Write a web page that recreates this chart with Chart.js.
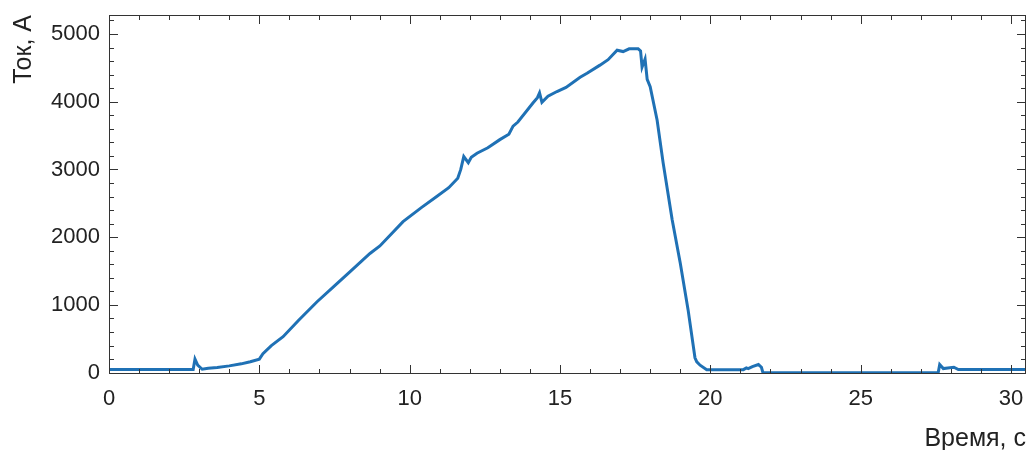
<!DOCTYPE html>
<html>
<head>
<meta charset="utf-8">
<script src="https://cdn.jsdelivr.net/npm/chart.js@4.4.1/dist/chart.umd.min.js"></script>
<style>
  html, body { margin: 0; padding: 0; background: #fff; }
  #wrap { width: 1035px; height: 450px; }
</style>
</head>
<body>
<div id="wrap"><canvas id="chart-tok"></canvas></div>
<script>
// время, с
const timeS = [0, 2.80, 2.86, 2.95, 3.10, 3.30, 3.60, 4.00, 4.40, 4.70,
  5.00, 5.12, 5.40, 5.79, 6.30, 6.92, 7.50, 8.02, 8.68, 9.01,
  9.78, 10.40, 10.90, 11.30, 11.60, 11.70, 11.80, 11.95, 12.05, 12.24,
  12.60, 13.00, 13.30, 13.44, 13.60, 14.10, 14.25, 14.32, 14.40, 14.60,
  14.90, 15.20, 15.67, 15.90, 16.33, 16.60, 16.90, 17.10, 17.30, 17.60,
  17.68, 17.73, 17.83, 17.90, 18.00, 18.23, 18.43, 18.73, 19.00, 19.26,
  19.49, 19.55, 19.66, 19.88, 21.10, 21.20, 21.26, 21.40, 21.60, 21.70,
  21.75, 27.58, 27.63, 27.75, 27.90, 28.10, 28.25, 30.5];
// ток, А
const currentA = [45, 45, 200, 110, 50, 65, 75, 100, 130, 160,
  200, 280, 400, 530, 770, 1047, 1280, 1490, 1760, 1870,
  2230, 2440, 2600, 2730, 2870, 3000, 3190, 3100, 3180, 3240,
  3320, 3440, 3520, 3640, 3700, 3980, 4060, 4130, 3990, 4080,
  4150, 4210, 4360, 4420, 4540, 4620, 4760, 4740, 4780, 4780,
  4750, 4510, 4630, 4330, 4220, 3730, 3100, 2260, 1620, 930,
  220, 160, 110, 44, 44, 70, 60, 90, 120, 80,
  0, 0, 120, 60, 70, 80, 45, 45];

const xMajor = [0, 5, 10, 15, 20, 25, 30];
const yMajor = [0, 1000, 2000, 3000, 4000, 5000];

const axisColor = '#333333';
const textColor = '#222222';

// рамка и засечки внутрь
const boxTicks = {
  id: 'boxTicks',
  afterDraw(chart) {
    const ctx = chart.ctx;
    const a = chart.chartArea;
    const xs = chart.scales.x, ys = chart.scales.y;
    ctx.save();
    ctx.strokeStyle = axisColor;
    ctx.lineWidth = 1;
    ctx.strokeRect(a.left + 0.5, a.top + 0.5, a.right - a.left - 1, a.bottom - a.top - 1);
    ctx.beginPath();
    for (let v = 0; v <= 30; v += 1) {
      const len = (v % 5 === 0) ? 9 : 5;
      const px = Math.round(xs.getPixelForValue(v)) + 0.5;
      ctx.moveTo(px, a.bottom); ctx.lineTo(px, a.bottom - len);
      ctx.moveTo(px, a.top); ctx.lineTo(px, a.top + len);
    }
    for (let v = 0; v <= 5200; v += 200) {
      const len = (v % 1000 === 0) ? 9 : 5;
      const py = Math.round(ys.getPixelForValue(v)) + 0.5;
      ctx.moveTo(a.left, py); ctx.lineTo(a.left + len, py);
      ctx.moveTo(a.right, py); ctx.lineTo(a.right - len, py);
    }
    ctx.stroke();
    ctx.restore();
  }
};

const ctx = document.getElementById('chart-tok').getContext('2d');
const tokChart = new Chart(ctx, {
  type: 'line',
  data: {
    datasets: [{
      label: 'Ток',
      data: timeS.map((t, i) => ({ x: t, y: currentA[i] })),
      borderColor: '#1f71b5',
      borderWidth: 3,
      pointRadius: 0,
      tension: 0,
      fill: false
    }]
  },
  options: {
    responsive: true,
    maintainAspectRatio: false,
    animation: false,
    layout: { padding: { top: 15, right: 9, left: 0, bottom: 0 } },
    plugins: { legend: { display: false }, tooltip: { enabled: false } },
    scales: {
      x: {
        type: 'linear',
        min: 0,
        max: 30.5,
        afterBuildTicks: s => { s.ticks = xMajor.map(v => ({ value: v })); },
        afterFit: s => { s.height = 76; s.paddingRight = 0; s.paddingLeft = 0; },
        grid: { display: false, drawTicks: false },
        border: { display: false },
        ticks: {
          color: textColor, font: { family: 'Liberation Sans', size: 22 }, padding: 12, maxRotation: 0,
          callback: v => String(v)
        },
        title: {
          display: true, text: 'Время, с', align: 'end', color: textColor,
          font: { family: 'Liberation Sans', size: 25 }, padding: { top: 17, bottom: -4 }
        }
      },
      y: {
        min: -20,
        max: 5280,
        afterBuildTicks: s => { s.ticks = yMajor.map(v => ({ value: v })); },
        afterFit: s => { s.width = 109; s.paddingTop = 0; s.paddingBottom = 0; },
        grid: { display: false, drawTicks: false },
        border: { display: false },
        ticks: {
          color: textColor, font: { family: 'Liberation Sans', size: 22 }, padding: 9,
          callback: v => String(v)
        },
        title: {
          display: true, text: 'Ток, А', align: 'end', color: textColor,
          font: { family: 'Liberation Sans', size: 25 }, padding: { top: 9, bottom: 0 }
        }
      }
    }
  },
  plugins: [boxTicks]
});
</script>
</body>
</html>
